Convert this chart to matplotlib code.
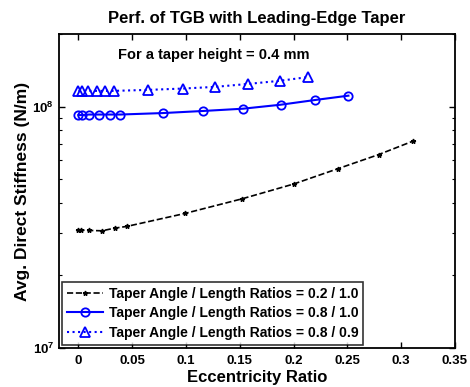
import matplotlib
matplotlib.use("AGG")
import matplotlib.pyplot as plt
from matplotlib.ticker import LogLocator, NullFormatter

plt.rcParams["font.family"] = "Liberation Sans"
plt.rcParams["font.weight"] = "bold"
plt.rcParams["mathtext.fontset"] = "custom"
plt.rcParams["mathtext.rm"] = "Liberation Sans:bold"
plt.rcParams["mathtext.it"] = "Liberation Sans:bold"
plt.rcParams["mathtext.bf"] = "Liberation Sans:bold"
plt.rcParams["mathtext.default"] = "regular"

# Taper angle / length ratios = 0.2 / 1.0
ecc_a = [0.0, 0.0025, 0.01, 0.022, 0.034, 0.045, 0.099, 0.152, 0.2, 0.241, 0.279, 0.311]
stiff_a = [3.08e7, 3.08e7, 3.07e7, 3.06e7, 3.14e7, 3.19e7, 3.61e7, 4.15e7, 4.78e7, 5.53e7, 6.33e7, 7.2e7]

# 0.8 / 1.0
ecc_b = [0.0, 0.003, 0.01, 0.019, 0.029, 0.039, 0.0785, 0.116, 0.153, 0.188, 0.22, 0.251]
stiff_b = [9.23e7, 9.23e7, 9.28e7, 9.28e7, 9.28e7, 9.28e7, 9.41e7, 9.6e7, 9.81e7, 1.019e8, 1.066e8, 1.111e8]

# 0.8 / 0.9
ecc_c = [0.0, 0.003, 0.0086, 0.017, 0.025, 0.033, 0.065, 0.097, 0.127, 0.158, 0.187, 0.213]
stiff_c = [1.163e8, 1.163e8, 1.163e8, 1.163e8, 1.163e8, 1.163e8, 1.174e8, 1.189e8, 1.208e8, 1.243e8, 1.28e8, 1.326e8]

labels = ["Taper Angle / Length Ratios = 0.2 / 1.0",
          "Taper Angle / Length Ratios = 0.8 / 1.0",
          "Taper Angle / Length Ratios = 0.8 / 0.9"]

fig = plt.figure(figsize=(4.7, 3.87), dpi=100)
ax = fig.add_axes([0.1255, 0.1008, 0.8425, 0.8112])

ax.plot(ecc_a, stiff_a, color="black", linestyle="--", marker="*", markersize=3.5,
        linewidth=1.2, label=labels[0])
ax.plot(ecc_b, stiff_b, color="blue", linestyle="-", marker="o", markersize=6,
        markerfacecolor="none", markeredgewidth=1.3, linewidth=1.5, label=labels[1])
ax.plot(ecc_c, stiff_c, color="blue", linestyle=":", marker="^", markersize=6.5,
        markerfacecolor="none", markeredgewidth=1.3, linewidth=1.5, label=labels[2])

ax.set_yscale("log")
ax.set_xlim(-0.018, 0.347)
ax.set_ylim(1e7, 2e8)
ax.set_xticks([0, 0.05, 0.1, 0.15, 0.2, 0.25, 0.3, 0.35])
ax.set_xticklabels(["0", "0.05", "0.1", "0.15", "0.2", "0.25", "0.3", "0.35"])
ax.yaxis.set_minor_locator(LogLocator(base=10, subs=range(2, 10)))
ax.yaxis.set_minor_formatter(NullFormatter())
ax.tick_params(which="both", direction="in", top=True, right=True, labelsize=9.5)
ax.tick_params(axis="x", pad=5)
ax.tick_params(which="major", length=4, width=1)
ax.tick_params(which="minor", length=2, width=0.8)
for s in ax.spines.values():
    s.set_linewidth(1.3)

ax.set_xlabel("Eccentricity Ratio", fontsize=12, fontweight="bold", labelpad=2)
ax.set_ylabel("Avg. Direct Stiffness (N/m)", fontsize=12.5, fontweight="bold", labelpad=2)
ax.set_title("Perf. of TGB with Leading-Edge Taper", fontsize=12, fontweight="bold", pad=8)
ax.text(0.148, 0.955, "For a taper height = 0.4 mm", transform=ax.transAxes,
        fontsize=10.5, fontweight="bold", va="top")

leg = ax.legend(loc="lower left", fontsize=10, frameon=True, fancybox=False,
                edgecolor="black", handlelength=2.6, borderpad=0.35, labelspacing=0.4,
                handletextpad=0.4, borderaxespad=0.25)
leg.get_frame().set_linewidth(1.2)

fig.savefig("out.png", dpi=100)
